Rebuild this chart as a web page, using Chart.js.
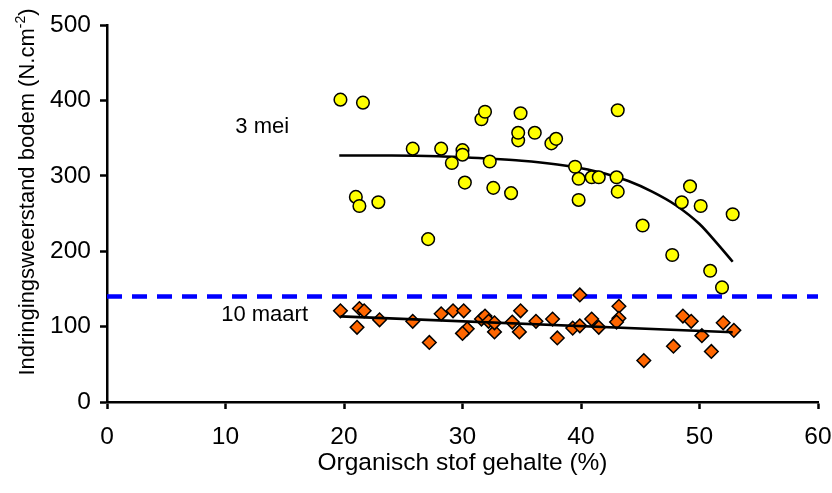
<!DOCTYPE html>
<html>
<head>
<meta charset="utf-8">
<script src="https://cdn.jsdelivr.net/npm/chart.js@4.4.0/dist/chart.umd.min.js"></script>
<style>
  html, body { margin: 0; padding: 0; background: #fff; }
  #wrap { width: 832px; height: 493px; }
</style>
</head>
<body>
<div id="wrap"><canvas id="chart" width="832" height="493"></canvas></div>
<script>
// 3 mei measurements (organic matter %, resistance N.cm-2)
const meiX = [19.7, 21.6, 25.8, 28.2, 30.0, 30.0, 29.1, 32.3, 31.6, 31.9,
              34.9, 34.7, 34.7, 36.1, 37.5, 37.9, 21.0, 21.3, 22.9, 30.2,
              32.6, 34.1, 27.1, 43.1, 39.5, 39.8, 40.9, 41.5, 43.0, 43.1,
              39.8, 45.2, 49.2, 48.5, 50.1, 52.8, 47.7, 50.9, 51.9];
const meiY = [401, 397, 336, 336, 334, 328, 317, 319, 375, 385,
              383, 347, 357, 357, 343, 349, 272, 260, 265, 291,
              284, 277, 216, 387, 312, 296, 298, 298, 298, 279,
              268, 234, 286, 265, 260, 249, 195, 174, 152];

// 10 maart measurements
const maartX = [19.7, 21.3, 21.7, 21.1, 23.0, 25.8, 27.2, 28.2, 29.2, 30.1,
                30.4, 30.0, 31.6, 31.9, 32.2, 32.7, 32.7, 34.2, 34.9, 34.8,
                36.2, 37.6, 38.0, 39.3, 39.9, 39.9, 40.9, 41.5, 43.2, 43.2,
                43.0, 45.3, 48.6, 49.3, 50.2, 47.8, 51.0, 52.0, 52.9];
const maartY = [121, 124, 121, 99, 109, 107, 79, 117, 121, 121,
                97, 91, 110, 114, 107, 93, 105, 106, 121, 93,
                107, 110, 85, 98, 101, 142, 110, 99, 127, 111,
                106, 55, 114, 107, 88, 74, 67, 105, 95];

// trend lines
const meiTrendX = [19.6, 24, 28, 32, 35, 38, 40, 42, 44, 46, 48, 50, 51.5, 52.8];
const meiTrendY = [327, 327, 326, 323, 320, 315, 310, 303, 293, 279, 261, 236, 210, 186];
const maartTrendX = [19.7, 52.8];
const maartTrendY = [113.5, 92.5];

// threshold line
const limitX = [0, 60];
const limitY = [140, 140];

// series labels
const seriesText = ['3 mei', '10 maart'];
const seriesTextX = [13.1, 13.3];
const seriesTextY = [365, 116];

const xTicks = [0, 10, 20, 30, 40, 50, 60];
const yTicks = [0, 100, 200, 300, 400, 500];

const FONT = '"Liberation Sans", Arial, sans-serif';

const toPoints = (xs, ys) => xs.map((x, i) => ({ x: x, y: ys[i] }));

// series names and rotated y title with superscript
const textLabels = {
  id: 'textLabels',
  afterDatasetsDraw(chart) {
    const { ctx, scales: { x, y } } = chart;
    ctx.save();
    ctx.fillStyle = '#000';
    ctx.font = '22px ' + FONT;
    ctx.textAlign = 'center';
    ctx.textBaseline = 'middle';
    seriesText.forEach((t, i) => {
      ctx.fillText(t, x.getPixelForValue(seriesTextX[i]), y.getPixelForValue(seriesTextY[i]));
    });
    ctx.restore();

    ctx.save();
    ctx.fillStyle = '#000';
    ctx.translate(28, 192);
    ctx.rotate(-Math.PI / 2);
    ctx.textBaseline = 'middle';
    ctx.textAlign = 'left';
    const main = 'Indringingsweerstand bodem (N.cm';
    const sup = '-2';
    const tail = ')';
    ctx.font = '22px ' + FONT;
    const wMain = ctx.measureText(main).width;
    const wTail = ctx.measureText(tail).width;
    ctx.font = '14px ' + FONT;
    const wSup = ctx.measureText(sup).width;
    let start = -(wMain + wSup + wTail) / 2;
    ctx.font = '22px ' + FONT;
    ctx.fillText(main, start, 0);
    ctx.font = '14px ' + FONT;
    ctx.fillText(sup, start + wMain, -7);
    ctx.font = '22px ' + FONT;
    ctx.fillText(tail, start + wMain + wSup, 0);
    ctx.restore();
  }
};

const ctx = document.getElementById('chart').getContext('2d');
new Chart(ctx, {
  type: 'scatter',
  data: {
    datasets: [
      {
        label: '3 mei',
        data: toPoints(meiX, meiY),
        pointStyle: 'circle',
        pointRadius: 6.3,
        pointBackgroundColor: '#FFFF00',
        pointBorderColor: '#000',
        pointBorderWidth: 1.5,
        order: 1
      },
      {
        label: 'trend 3 mei',
        data: toPoints(meiTrendX, meiTrendY),
        showLine: true,
        cubicInterpolationMode: 'monotone',
        borderColor: '#000',
        borderWidth: 2.6,
        pointRadius: 0,
        order: 2
      },
      {
        label: 'trend 10 maart',
        data: toPoints(maartTrendX, maartTrendY),
        showLine: true,
        borderColor: '#000',
        borderWidth: 2.6,
        pointRadius: 0,
        order: 3
      },
      {
        label: '10 maart',
        data: toPoints(maartX, maartY),
        pointStyle: 'rectRot',
        pointRadius: 6.8,
        pointBackgroundColor: '#FF6600',
        pointBorderColor: '#000',
        pointBorderWidth: 1.5,
        order: 4
      },
      {
        label: 'grens',
        data: toPoints(limitX, limitY),
        showLine: true,
        borderColor: '#0000FF',
        borderWidth: 4.5,
        borderDash: [15, 10],
        pointRadius: 0,
        order: 5
      }
    ]
  },
  options: {
    responsive: false,
    animation: false,
    layout: { padding: { left: 0, right: 14, top: 25, bottom: 0 } },
    plugins: {
      legend: { display: false },
      tooltip: { enabled: false }
    },
    scales: {
      x: {
        type: 'linear',
        min: 0,
        max: 60,
        afterBuildTicks: axis => { axis.ticks = xTicks.map(v => ({ value: v })); },
        afterFit: axis => {
          axis.height = 91;
          axis.paddingLeft = 0;
          axis.paddingRight = 0;
        },
        border: { display: true, color: '#000', width: 2.5 },
        grid: { drawOnChartArea: false, drawTicks: true, tickLength: 7, tickColor: '#000', tickWidth: 2.5 },
        ticks: { color: '#000', padding: 14, font: { family: FONT, size: 24.5 } },
        title: {
          display: true,
          text: 'Organisch stof gehalte (%)',
          color: '#000',
          font: { family: FONT, size: 24.5 },
          padding: { top: 0, bottom: 15 }
        }
      },
      y: {
        type: 'linear',
        min: 0,
        max: 500,
        afterBuildTicks: axis => { axis.ticks = yTicks.map(v => ({ value: v })); },
        afterFit: axis => {
          axis.width = 107;
          axis.paddingTop = 0;
          axis.paddingBottom = 0;
        },
        border: { display: true, color: '#000', width: 2.5 },
        grid: { drawOnChartArea: false, drawTicks: true, tickLength: 7, tickColor: '#000', tickWidth: 2.5 },
        ticks: { color: '#000', padding: 9, font: { family: FONT, size: 24.5 } }
      }
    }
  },
  plugins: [textLabels]
});
</script>
</body>
</html>
